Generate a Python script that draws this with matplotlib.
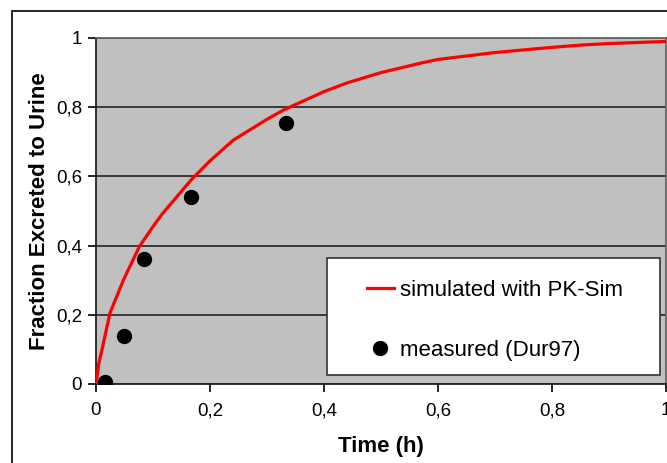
import matplotlib.pyplot as plt
from matplotlib.patches import Rectangle

plt.rcParams['font.family'] = ['Liberation Sans', 'DejaVu Sans']

# simulated curve (PK-Sim)
sim_t = [0, 0.005, 0.0117, 0.0245, 0.048, 0.076, 0.1, 0.117, 0.167, 0.2, 0.241,
         0.3, 0.329, 0.4, 0.44, 0.5, 0.574, 0.6, 0.7, 0.8, 0.855, 0.9, 1.0]
sim_y = [0, 0.06, 0.108, 0.205, 0.30, 0.397, 0.455, 0.493, 0.59, 0.645, 0.705,
         0.765, 0.792, 0.845, 0.87, 0.90, 0.929, 0.938, 0.958, 0.973, 0.98, 0.984, 0.99]

# measured (Dur97)
meas_t = [1/60, 3/60, 5/60, 10/60, 20/60]
meas_y = [0.005, 0.14, 0.36, 0.54, 0.755]

yticks = [0, 0.2, 0.4, 0.6, 0.8, 1]
xticks = [0, 0.2, 0.4, 0.6, 0.8, 1]

fig = plt.figure(figsize=(6.67, 4.63), dpi=100)
ax = fig.add_axes([96/667, 1 - 384/463, 570/667, 346/463])
ax.set_facecolor('#c0c0c0')

# outer chart border
fig.patches.append(Rectangle((12/667, -0.1), 1.2, 1 - 11/463 + 0.1,
                             transform=fig.transFigure, fill=False,
                             edgecolor='black', linewidth=1.2, clip_on=False))

ax.plot(sim_t, sim_y, color='#ff0000', lw=2.3, label='simulated with PK-Sim', zorder=3)
ax.plot(meas_t, meas_y, 'o', color='black', ms=10, label='measured (Dur97)', zorder=4)

ax.set_xlim(0, 1)
ax.set_ylim(0, 1)
ax.set_xticks(xticks)
ax.set_yticks(yticks)
ax.set_xticklabels([('%g' % v).replace('.', ',') for v in xticks])
ax.set_yticklabels([('%g' % v).replace('.', ',') for v in yticks])
ax.yaxis.grid(True, color='#222222', lw=1.2)
ax.set_axisbelow(True)
ax.tick_params(labelsize=13.5, length=6, width=1.2, colors='black', pad=4)
ax.tick_params(axis='x', pad=7)

for s in ['left', 'bottom']:
    ax.spines[s].set_color('#222222')
    ax.spines[s].set_linewidth(1.3)
for s in ['top', 'right']:
    ax.spines[s].set_color('#666666')
    ax.spines[s].set_linewidth(1.3)

ax.set_xlabel('Time (h)', fontsize=16, fontweight='bold', labelpad=12)
ax.set_ylabel('Fraction Excreted to Urine', fontsize=16, fontweight='bold', labelpad=4)

# legend box
ax.add_patch(Rectangle(((327 - 96)/570, (384 - 375)/346), 333/570, 117/346,
                       transform=ax.transAxes, facecolor='white',
                       edgecolor='#333333', lw=1.2, zorder=5, clip_on=False))
leg = ax.legend(loc='upper left', bbox_to_anchor=((367 - 96)/570, (384 - 280)/346),
                fontsize=16, frameon=False, borderpad=0, borderaxespad=0,
                labelspacing=1.75, handlelength=1.2, handletextpad=0.3)
leg.set_zorder(6)

plt.savefig('out.png', dpi=100)
